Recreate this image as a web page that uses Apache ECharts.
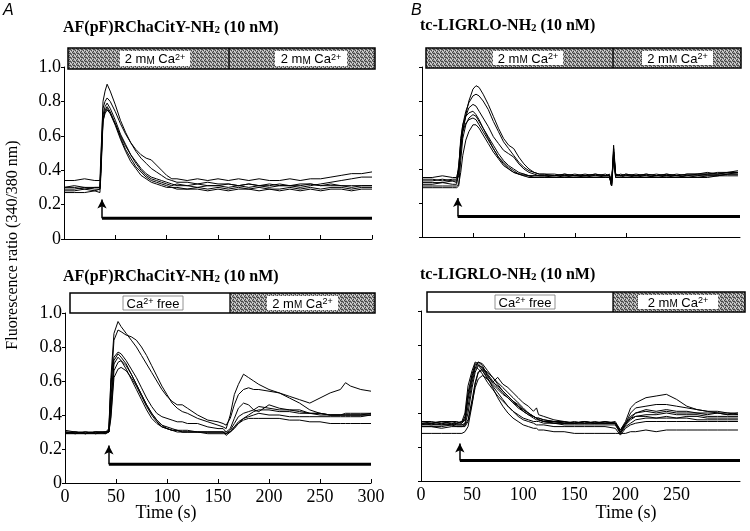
<!DOCTYPE html>
<html><head><meta charset="utf-8">
<script src="https://cdn.jsdelivr.net/npm/echarts/dist/echarts.min.js"></script>
<style>html,body{margin:0;padding:0;background:#fff}#c{width:750px;height:531px}</style>
</head><body><div id="c"></div>
<script>
// ---------- DATA ----------
const yTicks = [0, 0.2, 0.4, 0.6, 0.8, 1.0];
const xTicksLeft = [0, 50, 100, 150, 200, 250, 300];
const xTicksRight = [0, 50, 100, 150, 200, 250];

// Panel A top (AF(pF)RChaCitY-NH2, 2 mM Ca2+ throughout)
const timeAtop = [0,10,20,30,35,36,38,40,42,45,50,55,60,65,70,75,80,85,90,95,100,105,110,120,130,140,150,160,170,180,190,200,210,220,230,240,250,260,270,280,290,300];
const aTop1 = [0.30,0.31,0.30,0.30,0.30,0.45,0.80,0.86,0.90,0.86,0.78,0.69,0.62,0.56,0.51,0.47,0.44,0.41,0.39,0.37,0.35,0.34,0.33,0.33,0.32,0.33,0.32,0.32,0.31,0.32,0.31,0.32,0.31,0.31,0.32,0.32,0.31,0.32,0.31,0.31,0.31,0.31];
const aTop2 = [0.34,0.34,0.35,0.34,0.34,0.50,0.76,0.80,0.82,0.80,0.74,0.67,0.61,0.56,0.52,0.49,0.47,0.46,0.43,0.40,0.37,0.35,0.35,0.34,0.35,0.34,0.35,0.34,0.35,0.34,0.35,0.34,0.34,0.35,0.34,0.35,0.35,0.36,0.37,0.38,0.38,0.39];
const aTop3 = [0.29,0.29,0.30,0.29,0.29,0.42,0.72,0.77,0.79,0.76,0.69,0.61,0.55,0.49,0.45,0.41,0.38,0.36,0.35,0.34,0.33,0.32,0.31,0.31,0.30,0.31,0.31,0.30,0.31,0.30,0.31,0.30,0.31,0.31,0.30,0.31,0.32,0.33,0.34,0.35,0.36,0.36];
const aTop4 = [0.28,0.28,0.29,0.28,0.29,0.40,0.70,0.75,0.77,0.74,0.67,0.59,0.52,0.47,0.42,0.39,0.36,0.34,0.33,0.32,0.31,0.30,0.30,0.29,0.30,0.29,0.30,0.29,0.30,0.29,0.30,0.29,0.29,0.30,0.29,0.30,0.29,0.30,0.30,0.29,0.30,0.30];
const aTop5 = [0.30,0.30,0.29,0.30,0.30,0.44,0.69,0.73,0.75,0.73,0.67,0.60,0.54,0.49,0.44,0.40,0.37,0.35,0.34,0.33,0.32,0.31,0.32,0.31,0.32,0.31,0.31,0.32,0.31,0.32,0.31,0.31,0.32,0.31,0.31,0.32,0.31,0.31,0.31,0.30,0.31,0.31];
const aTop6 = [0.27,0.27,0.27,0.28,0.27,0.38,0.68,0.74,0.76,0.73,0.66,0.58,0.51,0.45,0.41,0.37,0.35,0.33,0.32,0.31,0.30,0.30,0.29,0.29,0.29,0.28,0.29,0.28,0.29,0.29,0.28,0.29,0.28,0.29,0.28,0.29,0.28,0.29,0.29,0.28,0.29,0.29];

// Panel A bottom (Ca2+ free, then 2 mM Ca2+)
const timeAbot = [0,10,20,30,40,43,45,48,52,55,60,65,70,75,80,85,90,95,100,105,110,115,120,130,140,150,155,158,162,166,170,175,180,185,190,200,210,220,230,240,250,260,270,275,280,290,300];
const aBot1 = [0.30,0.29,0.30,0.30,0.30,0.32,0.62,0.88,0.95,0.92,0.88,0.84,0.80,0.75,0.70,0.65,0.60,0.55,0.51,0.48,0.46,0.46,0.44,0.40,0.37,0.36,0.35,0.34,0.38,0.46,0.52,0.55,0.56,0.55,0.55,0.54,0.53,0.51,0.49,0.47,0.50,0.53,0.55,0.59,0.57,0.55,0.54];
const aBot2 = [0.29,0.30,0.29,0.30,0.30,0.31,0.55,0.84,0.90,0.89,0.87,0.86,0.84,0.80,0.75,0.69,0.63,0.57,0.52,0.47,0.44,0.42,0.41,0.38,0.36,0.34,0.33,0.32,0.40,0.52,0.58,0.64,0.62,0.60,0.58,0.55,0.53,0.50,0.47,0.43,0.41,0.40,0.40,0.40,0.40,0.40,0.41];
const aBot3 = [0.30,0.29,0.29,0.30,0.29,0.31,0.60,0.74,0.77,0.76,0.72,0.67,0.62,0.56,0.50,0.45,0.41,0.39,0.38,0.37,0.36,0.36,0.35,0.35,0.33,0.32,0.32,0.30,0.32,0.38,0.44,0.47,0.46,0.43,0.42,0.46,0.44,0.43,0.43,0.41,0.40,0.40,0.40,0.40,0.40,0.40,0.40];
const aBot4 = [0.31,0.30,0.30,0.29,0.30,0.30,0.50,0.72,0.76,0.74,0.70,0.64,0.58,0.52,0.46,0.41,0.37,0.34,0.33,0.32,0.31,0.31,0.31,0.30,0.30,0.30,0.30,0.29,0.31,0.35,0.39,0.41,0.42,0.43,0.45,0.44,0.43,0.43,0.42,0.41,0.41,0.40,0.40,0.41,0.41,0.41,0.41];
const aBot5 = [0.29,0.29,0.30,0.29,0.29,0.30,0.45,0.70,0.74,0.72,0.67,0.61,0.55,0.49,0.43,0.38,0.35,0.33,0.32,0.31,0.31,0.30,0.30,0.30,0.30,0.30,0.30,0.28,0.30,0.33,0.36,0.38,0.39,0.40,0.41,0.40,0.40,0.39,0.39,0.39,0.39,0.39,0.39,0.39,0.39,0.39,0.40];
const aBot6 = [0.30,0.30,0.29,0.30,0.30,0.30,0.40,0.66,0.71,0.72,0.69,0.64,0.58,0.52,0.46,0.41,0.37,0.34,0.32,0.31,0.30,0.30,0.30,0.30,0.29,0.29,0.29,0.29,0.30,0.33,0.35,0.37,0.38,0.38,0.38,0.38,0.38,0.37,0.37,0.36,0.36,0.35,0.35,0.35,0.35,0.35,0.35];
const aBot7 = [0.29,0.30,0.29,0.29,0.30,0.30,0.38,0.62,0.67,0.68,0.66,0.62,0.57,0.51,0.45,0.40,0.36,0.33,0.32,0.31,0.31,0.30,0.30,0.30,0.30,0.30,0.30,0.30,0.30,0.32,0.35,0.38,0.40,0.42,0.43,0.43,0.42,0.42,0.41,0.41,0.41,0.40,0.40,0.40,0.40,0.40,0.40];

// Panel B top (tc-LIGRLO-NH2, 2 mM Ca2+ throughout)
const timeBtop = [0,10,20,30,34,36,38,40,43,46,50,53,56,60,65,70,75,80,85,90,95,100,105,110,115,120,130,140,150,160,170,180,184,186,188,190,195,200,210,220,230,240,250,260,270,280,290,300,310];
const bTop1 = [0.33,0.33,0.34,0.33,0.33,0.36,0.50,0.62,0.72,0.80,0.87,0.89,0.88,0.84,0.78,0.71,0.64,0.58,0.54,0.52,0.47,0.43,0.40,0.38,0.37,0.37,0.37,0.36,0.37,0.36,0.37,0.36,0.37,0.30,0.54,0.37,0.36,0.37,0.36,0.37,0.36,0.37,0.36,0.37,0.37,0.38,0.37,0.38,0.38];
const bTop2 = [0.35,0.35,0.36,0.35,0.35,0.40,0.56,0.66,0.74,0.79,0.83,0.84,0.83,0.80,0.75,0.68,0.62,0.56,0.52,0.48,0.44,0.41,0.39,0.38,0.37,0.37,0.36,0.37,0.36,0.37,0.36,0.37,0.36,0.31,0.50,0.36,0.37,0.36,0.37,0.36,0.37,0.36,0.37,0.36,0.37,0.37,0.38,0.38,0.39];
const bTop3 = [0.31,0.31,0.32,0.31,0.31,0.40,0.58,0.66,0.71,0.73,0.74,0.72,0.69,0.64,0.59,0.54,0.49,0.45,0.42,0.40,0.38,0.37,0.36,0.36,0.36,0.36,0.36,0.36,0.36,0.36,0.36,0.36,0.36,0.32,0.48,0.36,0.36,0.35,0.36,0.36,0.35,0.36,0.36,0.35,0.36,0.36,0.36,0.37,0.37];
const bTop4 = [0.29,0.29,0.29,0.29,0.29,0.30,0.45,0.58,0.66,0.70,0.72,0.71,0.68,0.64,0.58,0.52,0.47,0.43,0.40,0.38,0.37,0.36,0.36,0.35,0.35,0.35,0.35,0.35,0.35,0.35,0.35,0.35,0.35,0.30,0.46,0.35,0.35,0.35,0.35,0.35,0.35,0.35,0.35,0.35,0.35,0.35,0.36,0.36,0.36];
const bTop5 = [0.34,0.34,0.33,0.34,0.34,0.42,0.55,0.62,0.67,0.69,0.70,0.69,0.66,0.62,0.57,0.52,0.47,0.44,0.41,0.39,0.37,0.37,0.36,0.36,0.36,0.36,0.35,0.36,0.35,0.36,0.35,0.36,0.36,0.30,0.52,0.36,0.36,0.36,0.36,0.35,0.36,0.36,0.35,0.36,0.36,0.37,0.37,0.37,0.38];
const bTop6 = [0.30,0.30,0.30,0.30,0.30,0.31,0.38,0.48,0.57,0.62,0.66,0.66,0.64,0.60,0.55,0.50,0.46,0.42,0.40,0.38,0.37,0.36,0.35,0.35,0.35,0.35,0.35,0.35,0.35,0.35,0.35,0.35,0.35,0.31,0.48,0.35,0.35,0.35,0.35,0.35,0.35,0.35,0.35,0.35,0.35,0.36,0.36,0.37,0.37];
const bTop7 = [0.32,0.32,0.32,0.33,0.32,0.38,0.52,0.63,0.71,0.76,0.78,0.77,0.74,0.70,0.65,0.59,0.55,0.51,0.49,0.47,0.43,0.40,0.38,0.37,0.36,0.36,0.36,0.37,0.36,0.36,0.37,0.36,0.36,0.30,0.50,0.37,0.36,0.37,0.36,0.37,0.36,0.37,0.36,0.37,0.37,0.37,0.37,0.38,0.38];

// Panel B bottom (Ca2+ free, then 2 mM Ca2+)
const timeBbot = [0,10,20,30,35,40,43,46,50,53,56,60,65,70,75,80,85,90,95,100,105,110,113,115,120,130,140,150,160,170,180,190,195,200,205,210,220,230,240,250,260,270,280,290,300,310];
const bBot1 = [0.34,0.33,0.34,0.33,0.34,0.34,0.36,0.48,0.60,0.68,0.70,0.68,0.62,0.58,0.61,0.57,0.55,0.52,0.49,0.46,0.44,0.41,0.43,0.39,0.38,0.36,0.35,0.34,0.35,0.34,0.35,0.34,0.30,0.35,0.43,0.46,0.49,0.50,0.51,0.48,0.44,0.42,0.41,0.40,0.40,0.39];
const bBot2 = [0.33,0.34,0.33,0.34,0.33,0.33,0.34,0.44,0.58,0.66,0.70,0.69,0.65,0.61,0.57,0.53,0.50,0.47,0.44,0.42,0.40,0.38,0.37,0.37,0.36,0.35,0.35,0.34,0.35,0.34,0.35,0.34,0.29,0.34,0.40,0.43,0.44,0.45,0.45,0.44,0.43,0.42,0.41,0.41,0.40,0.40];
const bBot3 = [0.35,0.35,0.34,0.35,0.35,0.34,0.38,0.52,0.63,0.69,0.68,0.65,0.60,0.57,0.54,0.51,0.49,0.46,0.43,0.41,0.39,0.38,0.37,0.37,0.36,0.35,0.34,0.34,0.34,0.34,0.34,0.34,0.28,0.33,0.37,0.40,0.42,0.41,0.42,0.41,0.41,0.40,0.40,0.40,0.39,0.39];
const bBot4 = [0.32,0.32,0.32,0.33,0.32,0.32,0.33,0.40,0.55,0.64,0.68,0.67,0.63,0.59,0.55,0.52,0.49,0.46,0.44,0.41,0.39,0.37,0.36,0.36,0.35,0.34,0.34,0.34,0.34,0.34,0.34,0.34,0.29,0.33,0.36,0.38,0.39,0.39,0.40,0.39,0.39,0.39,0.38,0.38,0.38,0.38];
const bBot5 = [0.34,0.34,0.35,0.34,0.34,0.35,0.36,0.50,0.62,0.67,0.66,0.63,0.58,0.54,0.50,0.47,0.44,0.41,0.39,0.37,0.36,0.35,0.35,0.35,0.34,0.34,0.34,0.34,0.35,0.34,0.34,0.34,0.30,0.34,0.37,0.38,0.38,0.37,0.38,0.37,0.38,0.38,0.37,0.37,0.37,0.37];
const bBot6 = [0.33,0.33,0.33,0.33,0.33,0.33,0.33,0.36,0.48,0.58,0.64,0.66,0.64,0.61,0.58,0.55,0.52,0.49,0.46,0.43,0.40,0.38,0.37,0.36,0.35,0.34,0.33,0.33,0.33,0.33,0.33,0.33,0.28,0.32,0.34,0.36,0.37,0.37,0.37,0.37,0.37,0.36,0.36,0.36,0.36,0.36];
const bBot7 = [0.28,0.28,0.28,0.28,0.28,0.28,0.29,0.32,0.45,0.57,0.64,0.65,0.61,0.55,0.49,0.44,0.40,0.37,0.35,0.33,0.32,0.31,0.31,0.30,0.30,0.29,0.29,0.28,0.28,0.28,0.28,0.28,0.28,0.28,0.29,0.29,0.30,0.29,0.30,0.30,0.30,0.30,0.30,0.30,0.30,0.30];
const bBot8 = [0.35,0.34,0.35,0.35,0.34,0.35,0.40,0.56,0.65,0.70,0.69,0.66,0.62,0.58,0.56,0.53,0.50,0.47,0.45,0.42,0.40,0.38,0.37,0.36,0.35,0.35,0.34,0.35,0.34,0.35,0.34,0.35,0.30,0.34,0.38,0.40,0.41,0.40,0.41,0.40,0.40,0.40,0.39,0.40,0.39,0.40];
const bBot9 = [0.32,0.32,0.31,0.32,0.32,0.32,0.32,0.35,0.46,0.55,0.60,0.62,0.60,0.56,0.52,0.48,0.44,0.41,0.38,0.36,0.35,0.34,0.33,0.33,0.33,0.32,0.32,0.32,0.32,0.32,0.32,0.31,0.27,0.31,0.33,0.34,0.35,0.35,0.35,0.35,0.35,0.35,0.35,0.35,0.35,0.35];

// Agonist application: arrow time, bar level, arrow tip, bar end (per panel: A top, A bottom, B top, B bottom)
const stimStart = [37, 43, 35, 38];
const stimLevel = [0.12, 0.11, 0.12, 0.12];
const stimTip   = [0.23, 0.22, 0.23, 0.22];
const stimEnd   = [300, 300, 312, 312];
const xMax = [300, 300, 312, 312];

// ---------- CHART ----------
const chart = echarts.init(document.getElementById('c'), null, {renderer: 'canvas'});

const pc = document.createElement('canvas'); pc.width = 4; pc.height = 4;
const g = pc.getContext('2d');
g.fillStyle = '#9c9c9c'; g.fillRect(0, 0, 4, 4);
g.fillStyle = '#444'; [[0,0],[2,1],[1,3],[3,2],[1,1]].forEach(p => g.fillRect(p[0], p[1], 1, 1));
g.fillStyle = '#dcdcdc'; [[2,3],[0,2],[3,0]].forEach(p => g.fillRect(p[0], p[1], 1, 1));
const pattern = {image: pc, repeat: 'repeat'};

const SERIF = "'Liberation Serif','Times New Roman',serif";
const SANS = "'Liberation Sans',Arial,sans-serif";

const grids = [
  {left: 64, top: 67, width: 308, height: 172},
  {left: 65, top: 313, width: 306, height: 170},
  {left: 422, top: 67, width: 318, height: 170},
  {left: 421, top: 311, width: 319, height: 170}
];

function xAxis(i) {
  const showLab = (i === 1 || i === 3);
  const labVals = i === 1 ? xTicksLeft : xTicksRight;
  let tickVals = xTicksLeft;
  if (i === 2) tickVals = [50, 100, 150, 200];
  return {
    type: 'value', gridIndex: i, min: 0, max: xMax[i],
    axisLine: {show: true, onZero: false, lineStyle: {color: '#000', width: 1}},
    splitLine: {show: false},
    axisTick: {show: i !== 3, inside: true, length: 4, customValues: tickVals, lineStyle: {color: '#000'}},
    axisLabel: {show: showLab, customValues: labVals, margin: 5, fontFamily: SERIF, fontSize: 18, color: '#000'}
  };
}
function yAxis(i) {
  const left = (i === 0 || i === 1);
  return {
    type: 'value', gridIndex: i, min: 0, max: 1, interval: 0.2,
    axisLine: {show: true, onZero: false, lineStyle: {color: '#000', width: 1}},
    splitLine: {show: false},
    axisTick: {show: true, length: 3, customValues: yTicks, lineStyle: {color: '#000'}},
    axisLabel: {show: left, customValues: yTicks, margin: 3, fontFamily: SERIF, fontSize: 18, color: '#000',
      formatter: v => v === 0 ? '0' : v.toFixed(1)}
  };
}

function traces(times, list, gi) {
  return list.map(vals => ({
    type: 'line', xAxisIndex: gi, yAxisIndex: gi, silent: true, animation: false,
    symbol: 'none', data: times.map((t, k) => [t, vals[k]]),
    lineStyle: {color: '#000', width: 1}, z: 3
  }));
}
function stim(gi) {
  return {
    type: 'line', xAxisIndex: gi, yAxisIndex: gi, silent: true, animation: false, symbol: 'none',
    data: [[stimStart[gi], stimLevel[gi]], [stimEnd[gi], stimLevel[gi]]],
    lineStyle: {color: '#000', width: 3},
    markLine: {
      silent: true, animation: false, symbol: ['none', 'arrow'], symbolSize: [7, 9],
      lineStyle: {color: '#000', width: 1.5, type: 'solid'}, label: {show: false},
      data: [[{coord: [stimStart[gi], stimLevel[gi]]}, {coord: [stimStart[gi], stimTip[gi]]}]]
    }
  };
}

const series = [].concat(
  traces(timeAtop, [aTop1, aTop2, aTop3, aTop4, aTop5, aTop6], 0),
  traces(timeAbot, [aBot1, aBot2, aBot3, aBot4, aBot5, aBot6, aBot7], 1),
  traces(timeBtop, [bTop1, bTop2, bTop3, bTop4, bTop5, bTop6, bTop7], 2),
  traces(timeBbot, [bBot1, bBot2, bBot3, bBot4, bBot5, bBot6, bBot7, bBot8, bBot9], 3),
  [stim(0), stim(1), stim(2), stim(3)]
);

// Solution bars
const richBox = {
  sc: {fontSize: 10, fontFamily: SANS, fill: '#000', verticalAlign: 'bottom'},
  sup: {fontSize: 9, fontFamily: SANS, fill: '#000', verticalAlign: 'top'}
};
function solBar(x0, x1, y0, h, xd, firstWhite, boxes) {
  const els = [];
  els.push({type: 'rect', shape: {x: x0, y: y0, width: xd - x0, height: h}, style: {fill: firstWhite ? '#fff' : pattern}, silent: true});
  els.push({type: 'rect', shape: {x: xd, y: y0, width: x1 - xd, height: h}, style: {fill: pattern}, silent: true});
  els.push({type: 'rect', shape: {x: x0, y: y0, width: x1 - x0, height: h}, style: {fill: 'none', stroke: '#000', lineWidth: 1.5}, silent: true});
  els.push({type: 'line', shape: {x1: xd, y1: y0, x2: xd, y2: y0 + h}, style: {stroke: '#000', lineWidth: 1.3}, silent: true});
  boxes.forEach(b => {
    els.push({type: 'rect', shape: {x: b.x0, y: y0 + 3, width: b.x1 - b.x0, height: h - 6},
      style: {fill: '#fff', stroke: b.border ? '#777' : 'none', lineWidth: 0.8}, silent: true});
    els.push({type: 'text', x: (b.x0 + b.x1) / 2, y: y0 + h / 2 + 1, silent: true,
      style: {text: b.text, fontFamily: SANS, fontSize: 13, fill: '#000', align: 'center', verticalAlign: 'middle', rich: richBox}});
  });
  return els;
}
const caTxt = '2 m{sc|M} Ca{sup|2+}';
const freeTxt = 'Ca{sup|2+} free';
const titleRich = {b: {fontFamily: SERIF, fontWeight: 'bold', fontSize: 16, fill: '#000', verticalAlign: 'top'}, s: {fontFamily: SERIF, fontWeight: 'bold', fontSize: 11, fill: '#000', verticalAlign: 'bottom'}};

const graphic = [].concat(
  solBar(68, 375, 48, 21, 229, false, [{x0: 120, x1: 190, text: caTxt}, {x0: 275, x1: 347, text: caTxt}]),
  solBar(426, 741, 48, 20, 613, false, [{x0: 493, x1: 563, text: caTxt}, {x0: 642, x1: 713, text: caTxt}]),
  solBar(70, 375, 293, 20, 230, true, [{x0: 123, x1: 183, text: freeTxt, border: true}, {x0: 267, x1: 338, text: caTxt}]),
  solBar(427, 745, 292, 20, 613, true, [{x0: 495, x1: 555, text: freeTxt, border: true}, {x0: 638, x1: 718, text: caTxt}]),
  [
    {type: 'text', x: 3, y: 3, silent: true, style: {text: 'A', fontFamily: SANS, fontStyle: 'italic', fontSize: 16, fill: '#000'}},
    {type: 'text', x: 411, y: 3, silent: true, style: {text: 'B', fontFamily: SANS, fontStyle: 'italic', fontSize: 16, fill: '#000'}},
    {type: 'text', x: 63, y: 20, silent: true, style: {text: '{b|AF(pF)RChaCitY-NH}{s|2}{b| (10 nM)}', rich: titleRich}},
    {type: 'text', x: 63, y: 269, silent: true, style: {text: '{b|AF(pF)RChaCitY-NH}{s|2}{b| (10 nM)}', rich: titleRich}},
    {type: 'text', x: 420, y: 18, silent: true, style: {text: '{b|tc-LIGRLO-NH}{s|2}{b| (10 nM)}', rich: titleRich}},
    {type: 'text', x: 420, y: 267, silent: true, style: {text: '{b|tc-LIGRLO-NH}{s|2}{b| (10 nM)}', rich: titleRich}},
    {type: 'text', x: 13, y: 245, rotation: Math.PI / 2, silent: true, style: {text: 'Fluorescence ratio (340/380 nm)', fontFamily: SERIF, fontSize: 16, fill: '#000', align: 'center', verticalAlign: 'middle'}},
    {type: 'text', x: 166, y: 513, silent: true, style: {text: 'Time (s)', fontFamily: SERIF, fontSize: 18, fill: '#000', align: 'center', verticalAlign: 'middle'}},
    {type: 'text', x: 626, y: 513, silent: true, style: {text: 'Time (s)', fontFamily: SERIF, fontSize: 18, fill: '#000', align: 'center', verticalAlign: 'middle'}}
  ]
);

chart.setOption({
  animation: false,
  backgroundColor: '#fff',
  grid: grids,
  xAxis: [0, 1, 2, 3].map(xAxis),
  yAxis: [0, 1, 2, 3].map(yAxis),
  series: series,
  graphic: graphic
});
</script>
</body></html>
